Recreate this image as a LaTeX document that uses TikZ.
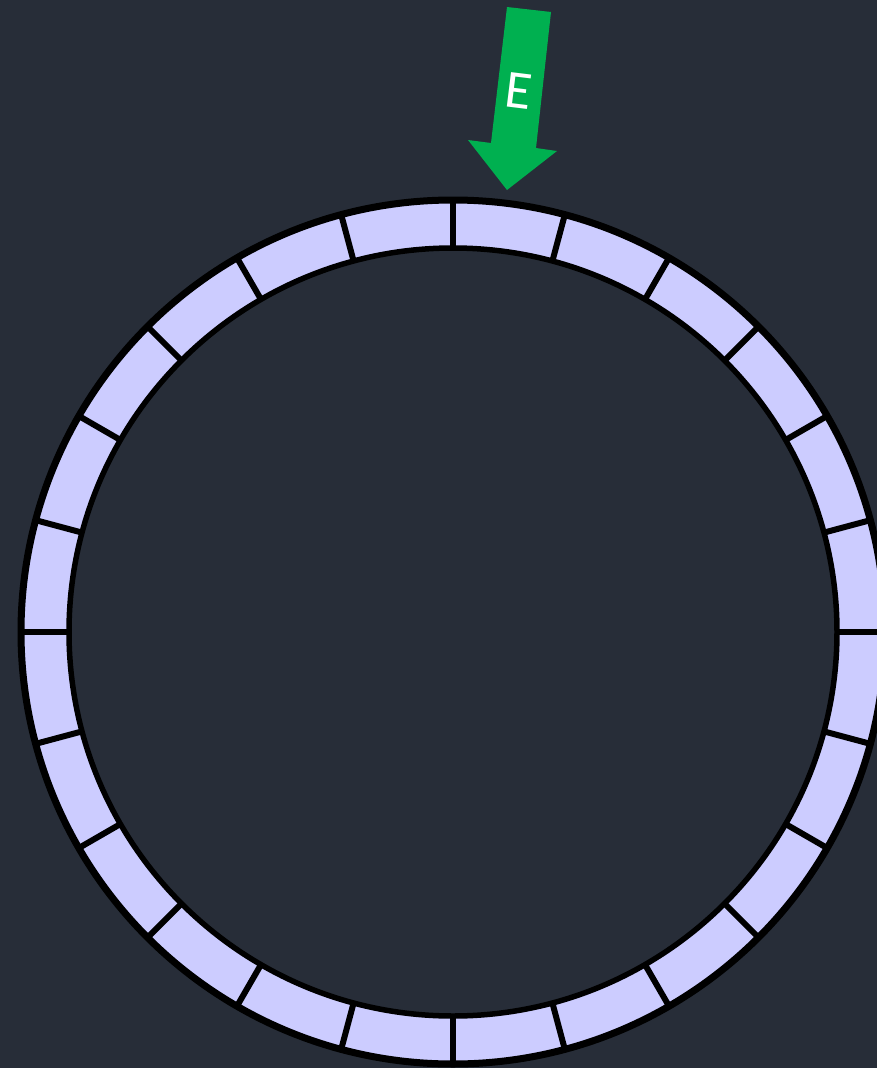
\documentclass[tikz,border=0pt]{standalone}
\usepackage{fontspec}
\setmainfont{Carlito}
\usetikzlibrary{calc}
\definecolor{bg}{HTML}{272D38}
\definecolor{ringfill}{HTML}{CCCCFF}
\definecolor{arrowgreen}{HTML}{00B050}
\tikzset{
  outerline/.style={draw=black, line width=7pt},
  innerline/.style={draw=black, line width=5.5pt},
  divider/.style={draw=black, line width=6pt},
  bigarrow/.style={fill=arrowgreen, draw=none},
  arrowlabel/.style={text=white, font=\fontsize{54}{54}\selectfont, rotate=-7, inner sep=0pt}
}
\begin{document}
\begin{tikzpicture}[x=1pt,y=-1pt]
\useasboundingbox (0,0) rectangle (877,1068);
\clip (0,0) rectangle (877,1068);
\fill[bg] (0,0) rectangle (877,1068);
\coordinate (c) at (453,632);
% ring
\fill[ringfill, even odd rule] (c) circle[radius=432] (c) circle[radius=384];
\foreach \a in {0,15,...,345}{
  \draw[divider] ($(c)+(\a:384)$) -- ($(c)+(\a:432)$);
}
\draw[outerline] (c) circle[radius=432];
\draw[innerline] (c) circle[radius=384];
% arrow
\fill[bigarrow] (507,7) -- (551,12) -- (536,148) -- (557,151) -- (507,190) -- (468,140) -- (491,143) -- cycle;
\node[arrowlabel] (e) at (519,91) {E};
\end{tikzpicture}
\end{document}
